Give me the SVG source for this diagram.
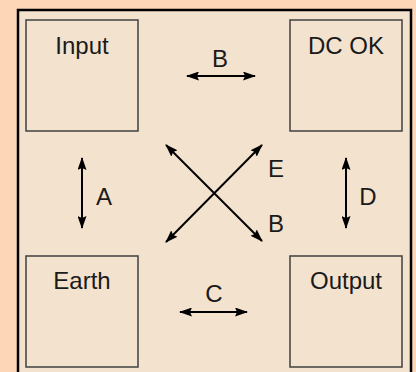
<svg xmlns="http://www.w3.org/2000/svg" width="416" height="372" viewBox="0 0 416 372">
<defs>
<marker id="ah" markerWidth="13" markerHeight="9" refX="12" refY="4.5" orient="auto-start-reverse" markerUnits="userSpaceOnUse">
<path d="M0,0 L13,4.5 L0,9 L2,4.5 Z" fill="#000"/>
</marker>
<style>
.box{fill:#F3E2CE;stroke:#4a4a4a;stroke-width:1.6}
.t{font-family:"Liberation Sans",Arial,sans-serif;font-size:24px;fill:#1a1a1a;text-anchor:middle}
.l{font-family:"Liberation Sans",Arial,sans-serif;font-size:24px;fill:#1a1a1a;text-anchor:middle}
.c{stroke:#000;stroke-width:2;fill:none;marker-start:url(#ah);marker-end:url(#ah)}
</style>
</defs>
<rect x="0" y="0" width="416" height="372" fill="#FCD6B7"/>
<rect x="18" y="10" width="393" height="370" fill="#F3E2CE" stroke="#000" stroke-width="2.5"/>
<g id="input"><rect class="box" x="26" y="20" width="112" height="111"/><text class="t" x="82" y="54">Input</text></g>
<g id="dcok"><rect class="box" x="290" y="20" width="112" height="111"/><text class="t" x="346" y="54">DC OK</text></g>
<g id="earth"><rect class="box" x="26" y="256" width="112" height="111"/><text class="t" x="82" y="289">Earth</text></g>
<g id="output"><rect class="box" x="290" y="256" width="112" height="111"/><text class="t" x="346" y="289">Output</text></g>
<g id="connectors">
<line class="c" x1="187" y1="76" x2="255" y2="76"/>
<line class="c" x1="180" y1="312" x2="247" y2="312"/>
<line class="c" x1="82" y1="158" x2="82" y2="228"/>
<line class="c" x1="346" y1="158" x2="346" y2="228"/>
<line class="c" x1="166" y1="145" x2="262" y2="241"/>
<line class="c" x1="262" y1="145" x2="166" y2="242"/>
<text class="l" x="220" y="67">B</text>
<text class="l" x="214" y="302">C</text>
<text class="l" x="104" y="205">A</text>
<text class="l" x="368" y="205">D</text>
<text class="l" x="276" y="177">E</text>
<text class="l" x="276" y="232">B</text>
</g>
</svg>
